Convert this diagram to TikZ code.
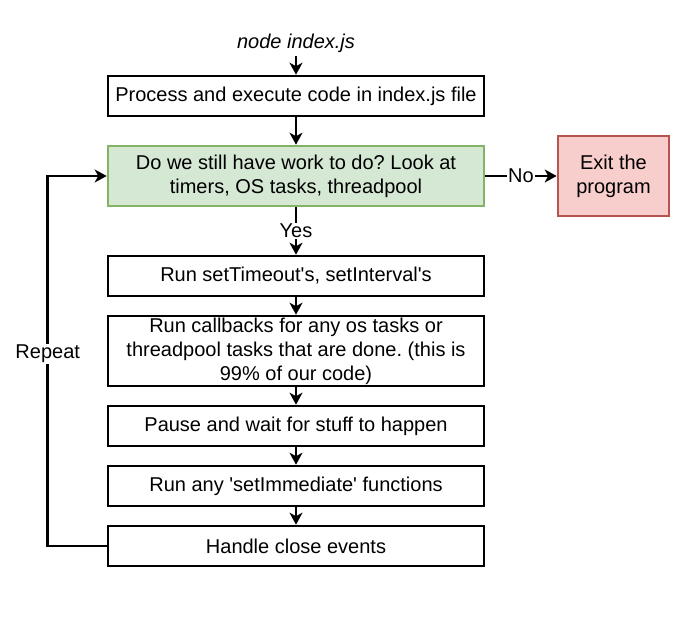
\documentclass[tikz,border=0pt]{standalone}
\usepackage{fontspec}
\setmainfont{Liberation Sans}
\usetikzlibrary{arrows.meta}
\frenchspacing

\begin{document}
\begin{tikzpicture}[x=1pt, y=-1pt,
	stagebox/.style={draw, line width=2.6pt, minimum width=376pt, minimum height=40pt, inner sep=0pt, align=center, font=\fontsize{20}{24}\selectfont},
	checkbox/.style={stagebox, fill={rgb,255:red,213;green,232;blue,212}, draw={rgb,255:red,130;green,179;blue,102}, minimum height=60pt},
	exitbox/.style={stagebox, fill={rgb,255:red,248;green,206;blue,204}, draw={rgb,255:red,184;green,84;blue,80}, minimum width=111pt, minimum height=80pt},
	edgelabel/.style={fill=white, inner sep=1pt, font=\fontsize{20}{24}\selectfont},
	flow/.style={line width=2.6pt, -{Stealth[length=12pt, width=13pt, inset=3.5pt]}}
	]
			%%%%% START %%%%%
			
			\useasboundingbox (0, 0) rectangle (696, 629);
			
			\node[font=\fontsize{20}{24}\selectfont\itshape] (cmd) at (296, 43) {node index.js};
			\node[stagebox] (process) at (296, 96) {Process and execute code in index.js file};
			\node[checkbox] (check) at (296, 176) {Do we still have work to do? Look at\\timers, OS tasks, threadpool};
			\node[exitbox] (exit) at (613.5, 176) {Exit the\\program};
			
			\node[stagebox] (timers) at (296, 276) {Run setTimeout\textquotesingle s, setInterval\textquotesingle s};
			\node[stagebox, minimum height=70pt] (callbacks) at (296, 351) {Run callbacks for any os tasks or\\threadpool tasks that are done. (this is\\99\% of our code)};
			\node[stagebox] (pause) at (296, 426) {Pause and wait for stuff to happen};
			\node[stagebox] (immediate) at (296, 486) {Run any \textquotesingle setImmediate\textquotesingle{} functions};
			\node[stagebox] (close) at (296, 546) {Handle close events};
			
			\draw[flow] (cmd) -- (process);
			\draw[flow] (process) -- (check);
			\draw[flow] (check) -- node[edgelabel] {No} (exit);
			\draw[flow] (check) -- node[edgelabel] {Yes} (timers);
			\draw[flow] (timers) -- (callbacks);
			\draw[flow] (callbacks) -- (pause);
			\draw[flow] (pause) -- (immediate);
			\draw[flow] (immediate) -- (close);
			
			\draw[flow] (close.west) -- ++(-59, 0) coordinate (loopcorner) |- node[edgelabel, pos=0.26] {Repeat} (check.west);
			
			%%%%% END %%%%%
\end{tikzpicture}
\end{document}
